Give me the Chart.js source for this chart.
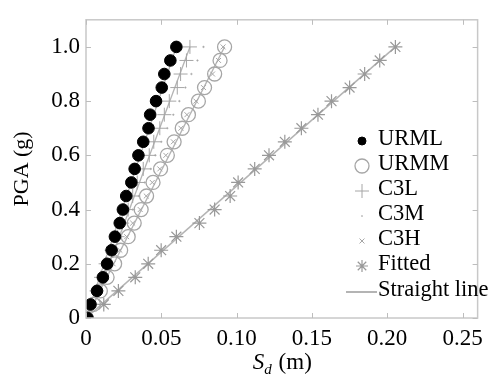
<!DOCTYPE html>
<html>
<head>
<meta charset="utf-8">
<script src="https://cdn.jsdelivr.net/npm/chart.js@4/dist/chart.umd.min.js"></script>
<style>
html,body{margin:0;padding:0;background:#fff;}
#wrap{width:490px;height:383px;}
</style>
</head>
<body>
<div id="wrap"><canvas id="c" width="490" height="383"></canvas></div>
<script>
// PGA levels (g)
const pga = [0,0.05,0.10,0.15,0.20,0.25,0.30,0.35,0.40,0.45,0.50,0.55,0.60,0.65,0.70,0.75,0.80,0.85,0.90,0.95,1.00];
// Spectral displacement Sd (m) per building type
const sdURML = [0.001,0.003,0.0073,0.0112,0.014,0.017,0.0192,0.0224,0.0245,0.0267,0.0301,0.0323,0.0348,0.038,0.0415,0.0426,0.0465,0.0503,0.052,0.056,0.060];
const sdURMM = [0.0,0.005,0.0095,0.014,0.019,0.023,0.028,0.032,0.0366,0.0402,0.0445,0.0495,0.054,0.0585,0.0639,0.068,0.0746,0.0787,0.0854,0.089,0.092];
const sdC3L  = [0.0,0.0035,0.007,0.010,0.013,0.017,0.021,0.024,0.028,0.031,0.034,0.038,0.042,0.045,0.049,0.052,0.0553,0.0606,0.0628,0.0667,0.069];
const sdC3M  = [0.0,0.004,0.008,0.012,0.016,0.020,0.023,0.027,0.031,0.035,0.039,0.043,0.046,0.050,0.054,0.058,0.062,0.066,0.070,0.074,0.078];
const sdC3H  = [0.0,0.0045,0.009,0.0135,0.018,0.0225,0.027,0.031,0.036,0.040,0.044,0.049,0.053,0.058,0.063,0.067,0.073,0.078,0.084,0.088,0.091];
const sdFitted = [0.0,0.0118,0.0215,0.0327,0.0413,0.0499,0.060,0.0753,0.0854,0.0957,0.101,0.112,0.1215,0.132,0.143,0.154,0.163,0.175,0.185,0.195,0.2054];
// Straight-line fits: end points [Sd at PGA 0, Sd at PGA 1.0]
const lineURML = [0.0, 0.060];
const lineC3L = [0.002, 0.069];
const lineURMM = [0.0, 0.092];
const lineFitted = [0.0, 0.2054];
const linePGA = [0, 1.0];
// Tick values and labels
const xTickValues = [0,0.05,0.10,0.15,0.20,0.25];
const xTickLabels = ["0","0.05","0.10","0.15","0.20","0.25"];
const yTickValues = [0,0.2,0.4,0.6,0.8,1.0];
const yTickLabels = ["0","0.2","0.4","0.6","0.8","1.0"];

const FONT = "'Liberation Serif', 'Times New Roman', Tinos, serif";
const GRAY = '#a6a6a6';
const pts = (xs, ys) => xs.map((x,i)=>({x:x, y:ys[i]}));

const datasets = [
  {label:'URML', data:pts(sdURML,pga), showLine:false, pointStyle:'circle', pointRadius:5.8, backgroundColor:'#000', borderColor:'#000', borderWidth:1, order:1, legendRadius:4},
  {label:'URMM', data:pts(sdURMM,pga), showLine:false, pointStyle:'circle', pointRadius:7, backgroundColor:'rgba(0,0,0,0)', borderColor:GRAY, borderWidth:1.3, order:2, legendRadius:7},
  {label:'C3L', data:pts(sdC3L,pga), showLine:false, pointStyle:'cross', pointRadius:7, backgroundColor:'rgba(0,0,0,0)', borderColor:GRAY, borderWidth:1, order:3, legendRadius:7},
  {label:'C3M', data:pts(sdC3M,pga), showLine:false, pointStyle:'circle', pointRadius:0.8, backgroundColor:GRAY, borderColor:GRAY, borderWidth:0.5, order:4, legendRadius:0.6},
  {label:'C3H', data:pts(sdC3H,pga), showLine:false, pointStyle:'crossRot', pointRadius:3.5, backgroundColor:'rgba(0,0,0,0)', borderColor:GRAY, borderWidth:1, order:5, legendRadius:3.5},
  {label:'Fitted', data:pts(sdFitted,pga), showLine:false, pointStyle:'star', pointRadius:7, backgroundColor:'rgba(0,0,0,0)', borderColor:'#999', borderWidth:1.2, order:6, legendRadius:6},
  {label:'Straight line', data:pts(lineFitted,linePGA), showLine:true, pointRadius:0, borderColor:'#b4b4b4', borderWidth:1.6, order:10},
  {label:'_lineURML', data:pts(lineURML,linePGA), showLine:true, pointRadius:0, borderColor:'#b4b4b4', borderWidth:1.3, order:11},
  {label:'_lineC3L', data:pts(lineC3L,linePGA), showLine:true, pointRadius:0, borderColor:'#b4b4b4', borderWidth:1.3, order:12},
  {label:'_lineURMM', data:pts(lineURMM,linePGA), showLine:true, pointRadius:0, borderColor:'#b4b4b4', borderWidth:1.3, order:13}
];

const frame = {
  id:'frame',
  afterDraw(chart){
    const ctx = chart.ctx, a = chart.chartArea;
    const xs = chart.scales.x, ys = chart.scales.y;
    ctx.save();
    ctx.strokeStyle = '#c8c8c8';
    ctx.lineWidth = 1.5;
    ctx.strokeRect(a.left, a.top, a.right-a.left, a.bottom-a.top);
    ctx.lineWidth = 1;
    ctx.strokeStyle = '#bdbdbd';
    const tl = 5;
    ctx.beginPath();
    xTickValues.forEach(v=>{
      const px = Math.round(xs.getPixelForValue(v))+0.5;
      ctx.moveTo(px,a.bottom); ctx.lineTo(px,a.bottom-tl);
      ctx.moveTo(px,a.top); ctx.lineTo(px,a.top+tl);
    });
    yTickValues.forEach(v=>{
      const py = Math.round(ys.getPixelForValue(v))+0.5;
      ctx.moveTo(a.left,py); ctx.lineTo(a.left+tl,py);
      ctx.moveTo(a.right,py); ctx.lineTo(a.right-tl,py);
    });
    ctx.stroke();

    // x-axis title: S_d (m)
    ctx.fillStyle = '#000';
    ctx.textBaseline = 'alphabetic';
    ctx.textAlign = 'left';
    const fMain = 'italic 23px ' + FONT, fSub = 'italic 15px ' + FONT, fReg = '23px ' + FONT;
    ctx.font = fMain; const wS = ctx.measureText('S').width;
    ctx.font = fSub; const wd = ctx.measureText('d').width;
    ctx.font = fReg; const wm = ctx.measureText(' (m)').width;
    const total = wS + wd + wm;
    let x0 = (a.left + a.right)/2 - total/2;
    const base = 369;
    ctx.font = fMain; ctx.fillText('S', x0, base);
    ctx.font = fSub; ctx.fillText('d', x0 + wS, base + 5);
    ctx.font = fReg; ctx.fillText(' (m)', x0 + wS + wd + 1, base);

    // legend (inside plot area)
    const lx = 362, tx = 377;
    const rows = [139,164,189,214,239,264,290];
    chart.data.datasets.filter(d=>!d.label.startsWith('_')).forEach((d,i)=>{
      const y = rows[i];
      ctx.save();
      if (d.showLine) {
        ctx.strokeStyle = d.borderColor; ctx.lineWidth = 2;
        ctx.beginPath(); ctx.moveTo(346,y+2); ctx.lineTo(tx,y+2); ctx.stroke();
      } else {
        ctx.fillStyle = d.backgroundColor;
        ctx.strokeStyle = d.borderColor;
        ctx.lineWidth = d.borderWidth;
        Chart.helpers.drawPoint(ctx, {pointStyle:d.pointStyle, radius:d.legendRadius, borderWidth:d.borderWidth, rotation:0}, lx, y+2);
      }
      ctx.restore();
      ctx.fillStyle = '#000';
      ctx.font = '22.5px ' + FONT;
      ctx.textBaseline = 'middle';
      ctx.textAlign = 'left';
      ctx.fillText(d.label, tx+1, y);
    });
    ctx.restore();
  }
};

function build(){
  new Chart(document.getElementById('c'), {
    type:'scatter',
    data:{datasets:datasets},
    options:{
      responsive:false,
      animation:false,
      layout:{padding:{top:6,right:1,left:0,bottom:0}},
      plugins:{legend:{display:false}, tooltip:{enabled:false}},
      scales:{
        x:{
          type:'linear', min:0, max:0.26,
          afterBuildTicks(s){ s.ticks = xTickValues.map(v=>({value:v})); },
          afterFit(s){ s.height = 65; },
          grid:{display:false, drawTicks:false},
          border:{display:false},
          ticks:{padding:7, color:'#000', font:{family:FONT,size:23}, maxRotation:0, autoSkip:false,
                 callback:(v,i)=>xTickLabels[i]}
        },
        y:{
          type:'linear', min:0, max:1.1,
          afterBuildTicks(s){ s.ticks = yTickValues.map(v=>({value:v})); },
          afterFit(s){ s.width = 86; },
          grid:{display:false, drawTicks:false},
          border:{display:false},
          ticks:{padding:6, color:'#000', font:{family:FONT,size:23}, autoSkip:false,
                 callback:(v,i)=>yTickLabels[i]},
          title:{display:true, text:'PGA (g)', color:'#000', font:{family:FONT,size:22}, padding:{top:9,bottom:0}}
        }
      }
    },
    plugins:[frame]
  });
}
if (document.fonts && document.fonts.load) {
  Promise.all([
    document.fonts.load('21px "Liberation Serif"'),
    document.fonts.load('italic 21px "Liberation Serif"')
  ]).then(build, build);
} else { build(); }
</script>
</body>
</html>
